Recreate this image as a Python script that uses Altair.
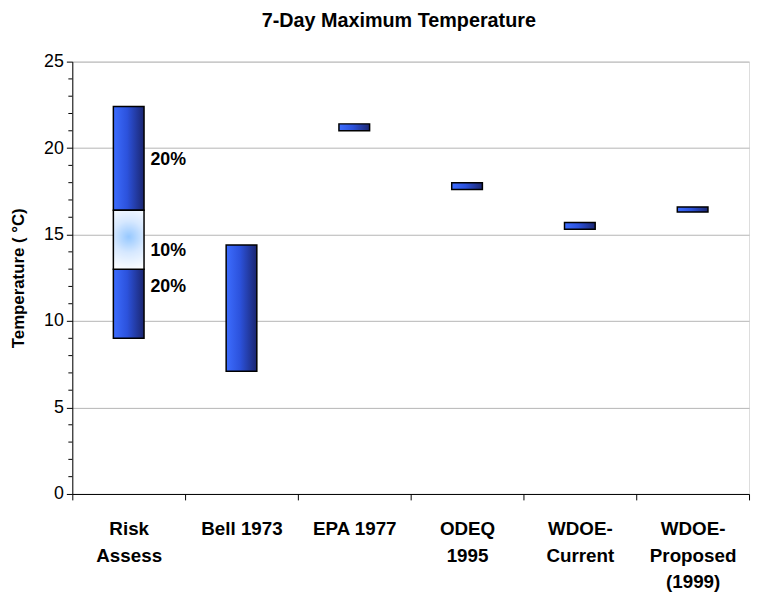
import altair as alt
import pandas as pd

# ---- data ----
categories = ["Risk|Assess", "Bell 1973", "EPA 1977", "ODEQ|1995", "WDOE-|Current", "WDOE-|Proposed|(1999)"]

# solid (blue) ranges, one row per segment
bar_cats = ["Risk|Assess", "Risk|Assess", "Bell 1973", "EPA 1977", "ODEQ|1995", "WDOE-|Current", "WDOE-|Proposed|(1999)"]
bar_low = [9.0, 16.4, 7.1, 21.0, 17.6, 15.3, 16.3]
bar_high = [13.0, 22.4, 14.4, 21.4, 18.0, 15.7, 16.6]

# light (central) range of the risk assessment bar
mid_cats = ["Risk|Assess"]
mid_low = [13.0]
mid_high = [16.4]

# percentage annotations
pct_cats = ["Risk|Assess", "Risk|Assess", "Risk|Assess"]
pct_y = [19.3, 14.05, 11.95]
pct_text = ["20%", "10%", "20%"]

y_ticks = [0, 5, 10, 15, 20, 25]
minor_ticks = [1, 2, 3, 4, 6, 7, 8, 9, 11, 12, 13, 14, 16, 17, 18, 19, 21, 22, 23, 24]

bars_df = pd.DataFrame({"cat": bar_cats, "low": bar_low, "high": bar_high})
mid_df = pd.DataFrame({"cat": mid_cats, "low": mid_low, "high": mid_high})
pct_df = pd.DataFrame({"cat": pct_cats, "y": pct_y, "t": pct_text})
minor_df = pd.DataFrame({"v": minor_ticks})

FONT = "Liberation Sans"

x_enc = alt.X(
    "cat:N",
    sort=categories,
    scale=alt.Scale(domain=categories, paddingInner=0, paddingOuter=0),
    axis=alt.Axis(
        title=None,
        labelAngle=0,
        labelExpr="split(datum.label, '|')",
        labelFont=FONT,
        labelFontSize=19,
        labelFontWeight="bold",
        labelColor="black",
        labelLineHeight=27,
        labelPadding=20,
        labelBaseline="top",
        tickBand="extent",
        tickSize=6,
        tickColor="black",
        domainColor="black",
        grid=False,
    ),
)

y_scale = alt.Scale(domain=[0, 25], nice=False, zero=True)
y_axis = alt.Axis(
    values=y_ticks,
    title="Temperature ( °C)",
    titleFont=FONT,
    titleFontSize=17,
    titleFontWeight="bold",
    titleColor="black",
    titlePadding=16,
    labelFont=FONT,
    labelFontSize=18,
    labelColor="black",
    labelPadding=3,
    tickSize=6,
    tickColor="black",
    domainColor="black",
    grid=True,
    gridColor="#b4b4b4",
)

blue_grad = alt.LinearGradient(
    gradient="linear",
    x1=0, y1=0, x2=1, y2=0,
    stops=[
        alt.GradientStop(offset=0, color="#3d6dff"),
        alt.GradientStop(offset=0.45, color="#2c52dc"),
        alt.GradientStop(offset=1, color="#1b2670"),
    ],
)
light_grad = alt.RadialGradient(
    gradient="radial",
    x1=0.5, y1=0.45, x2=0.5, y2=0.45, r1=0, r2=0.6,
    stops=[
        alt.GradientStop(offset=0, color="#96c8ff"),
        alt.GradientStop(offset=0.45, color="#d6e8ff"),
        alt.GradientStop(offset=1, color="#ffffff"),
    ],
)

bars = alt.Chart(bars_df).mark_bar(
    fill=blue_grad, stroke="black", strokeWidth=1.5, size=31
).encode(
    x=x_enc,
    y=alt.Y("low:Q", scale=y_scale, axis=y_axis),
    y2="high:Q",
)

mid = alt.Chart(mid_df).mark_bar(
    fill=light_grad, stroke="black", strokeWidth=1.5, size=31
).encode(
    x=alt.X("cat:N", sort=categories),
    y=alt.Y("low:Q"),
    y2="high:Q",
)

pct = alt.Chart(pct_df).mark_text(
    align="left", baseline="middle", dx=22, font=FONT, fontSize=18,
    fontWeight="bold", color="black"
).encode(
    x=alt.X("cat:N", sort=categories),
    y=alt.Y("y:Q"),
    text="t:N",
)

minor = alt.Chart(minor_df).mark_rule(color="black", strokeWidth=1).encode(
    y=alt.Y("v:Q"),
    x=alt.value(-4),
    x2=alt.value(0),
)

chart = alt.layer(bars, mid, pct, minor).properties(
    width=684,
    height=437,
    title=alt.TitleParams(
        "7-Day Maximum Temperature",
        font=FONT,
        fontSize=20,
        fontWeight="bold",
        color="black",
        anchor="middle",
        dx=-12,
        offset=22,
    ),
    autosize=alt.AutoSizeParams(type="none"),
    padding={"left": 65, "top": 51, "right": 2, "bottom": 105},
).configure_view(
    stroke="#a0a0a0", strokeWidth=1
).configure(background="white")

chart.save("out.html", embed_options={"renderer": "svg", "actions": False})
